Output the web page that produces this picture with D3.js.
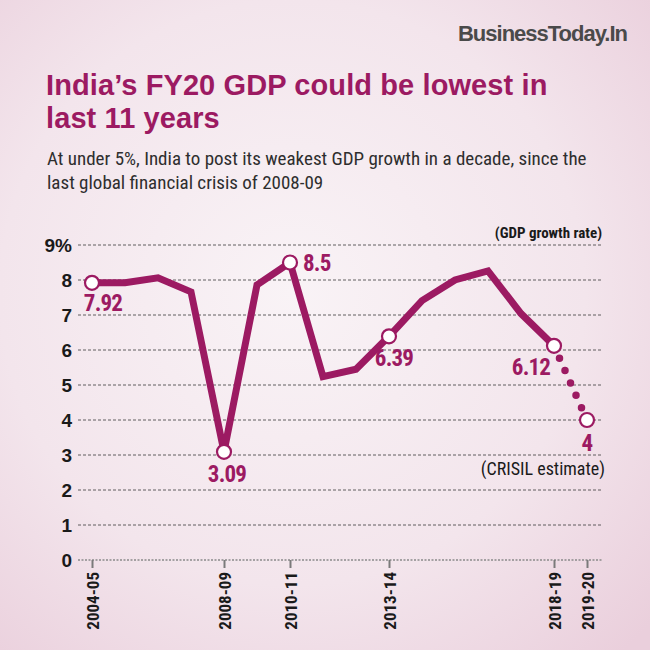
<!DOCTYPE html>
<html><head><meta charset="utf-8">
<script src="https://cdn.jsdelivr.net/npm/d3@7"></script>
<style>
html,body{margin:0;padding:0;background:#f3e6ec;}
svg{display:block;}
.cond{font-family:'Liberation Sans Narrow','Roboto Condensed','DejaVu Sans Condensed','Arial Narrow',sans-serif;}
</style></head>
<body>
<svg id="chart" width="650" height="650"></svg>
<script>
const years = ["2004-05","2005-06","2006-07","2007-08","2008-09","2009-10","2010-11","2011-12","2012-13","2013-14","2014-15","2015-16","2016-17","2017-18","2018-19","2019-20"];
const gdp = [7.92,7.92,8.06,7.66,3.09,7.86,8.5,5.24,5.45,6.39,7.41,8.0,8.26,7.04,6.12,4];
const labelled = ["2004-05","2008-09","2010-11","2013-14","2018-19","2019-20"];
const tickYears = ["2004-05","2008-09","2010-11","2013-14","2018-19","2019-20"];
const yTicks = [0,1,2,3,4,5,6,7,8,9];
const titleLines = ["India\u2019s FY20 GDP could be lowest in","last 11 years"];
const subtitleLines = ["At under 5%, India to post its weakest GDP growth in a decade, since the","last global financial crisis of 2008-09"];

const MAG = "#9c1a62";
const svg = d3.select("#chart");
const defs = svg.append("defs");
const grad = defs.append("radialGradient").attr("id","bg").attr("cx","45%").attr("cy","45%").attr("r","75%");
grad.append("stop").attr("offset","0%").attr("stop-color","#f9f3f6");
grad.append("stop").attr("offset","60%").attr("stop-color","#f3e5ec");
grad.append("stop").attr("offset","100%").attr("stop-color","#eacfdc");
svg.append("rect").attr("width",650).attr("height",650).attr("fill","url(#bg)");

const yr = s => +s.slice(0,4);
const x = d3.scaleLinear().domain([yr(years[0]), yr(years[years.length-1])]).range([92,587]);
const y = d3.scaleLinear().domain([0,9]).range([560,245]);

// header
svg.append("text").attr("x",627).attr("y",41).attr("text-anchor","end")
  .attr("font-family","'Liberation Sans','Arial',sans-serif").attr("font-weight","bold")
  .attr("font-size",22).attr("fill","#4a4a4a").attr("letter-spacing",-1).text("BusinessToday.In");

svg.selectAll(".title").data(titleLines).join("text").attr("class","title")
  .attr("x",46).attr("y",(d,i)=>95+i*32.5)
  .attr("font-family","'Liberation Sans','Arial',sans-serif").attr("font-weight","bold")
  .attr("font-size",29).attr("fill",MAG).attr("letter-spacing",0.1)
  .text(d=>d);

svg.selectAll(".sub").data(subtitleLines).join("text").attr("class","sub cond")
  .attr("x",47).attr("y",(d,i)=>165+i*24)
  .attr("font-size",19).attr("fill","#2e2e2e")
  .text(d=>d);

// grid
const grid = svg.append("g");
grid.selectAll("line").data(yTicks).join("line")
  .attr("x1",78).attr("x2",602).attr("y1",d=>y(d)).attr("y2",d=>y(d))
  .attr("stroke",d=>d===0?"#8a8a8a":"#3a3a3a").attr("stroke-width",d=>d===0?1.5:0.8)
  .attr("stroke-dasharray",d=>d===0?"2,1.5":"3,2");
grid.selectAll("text").data(yTicks).join("text")
  .attr("x",72).attr("y",d=>y(d)+7).attr("text-anchor","end")
  .attr("font-family","'Liberation Sans','Arial',sans-serif").attr("font-weight","bold")
  .attr("font-size",19).attr("fill","#1a1a1a")
  .text(d=>d===9?"9%":d);

// x axis
const xAxis = d3.axisBottom(x).tickValues(tickYears.map(yr)).tickSize(8)
  .tickFormat(v=>years.find(s=>yr(s)===v));
const ax = svg.append("g").attr("transform","translate(0,560)").call(xAxis);
ax.select(".domain").remove();
ax.selectAll(".tick line").attr("stroke","#7a7a7a").attr("stroke-width",2);
ax.selectAll(".tick text").attr("class","cond").attr("transform","rotate(-90)")
  .attr("text-anchor","end").attr("x",-12).attr("y",0).attr("dy","0.36em")
  .attr("font-size",17).attr("font-weight","bold").attr("fill","#1a1a1a");

svg.append("text").attr("class","cond").attr("x",602).attr("y",238).attr("text-anchor","end")
  .attr("font-size",15).attr("font-weight","bold").attr("fill","#1a1a1a").text("(GDP growth rate)");
svg.append("text").attr("class","cond").attr("x",605).attr("y",475).attr("text-anchor","end")
  .attr("font-size",18).attr("fill","#1a1a1a").text("(CRISIL estimate)");

const pts = years.map((s,i)=>({s, v:gdp[i]}));
const line = d3.line().x(d=>x(yr(d.s))).y(d=>y(d.v));
svg.append("path").attr("d",line(pts.slice(0,pts.length-1))).attr("fill","none")
  .attr("stroke",MAG).attr("stroke-width",7).attr("stroke-linejoin","miter");
svg.append("path").attr("d",line(pts.slice(pts.length-2))).attr("fill","none")
  .attr("pathLength",6).attr("stroke",MAG).attr("stroke-width",7.5)
  .attr("stroke-linecap","round").attr("stroke-dasharray","0 1").attr("stroke-dashoffset",-1);

const lab = pts.filter(d=>labelled.includes(d.s));
svg.selectAll(".dot").data(lab).join("circle").attr("class","dot")
  .attr("cx",d=>x(yr(d.s))).attr("cy",d=>y(d.v)).attr("r",7)
  .attr("fill","#fff").attr("stroke",MAG).attr("stroke-width",2.2);

const off = {"2004-05":[11,28,"middle"],"2008-09":[3,30,"middle"],"2010-11":[13,8,"start"],
  "2013-14":[5,30,"middle"],"2018-19":[-23,29,"middle"],"2019-20":[0,31,"middle"]};
svg.selectAll(".vl").data(lab).join("text").attr("class","vl cond")
  .attr("x",d=>x(yr(d.s))+off[d.s][0]).attr("y",d=>y(d.v)+off[d.s][1])
  .attr("text-anchor",d=>off[d.s][2]).attr("font-size",23).attr("font-weight","bold")
  .attr("letter-spacing",-0.8)
  .attr("fill",MAG).text(d=>d.v);
</script>
</body></html>
